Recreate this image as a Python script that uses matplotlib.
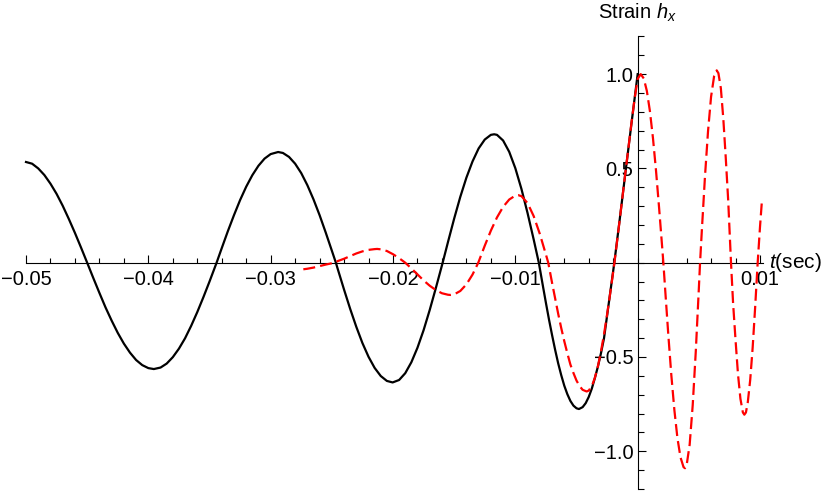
import matplotlib

matplotlib.use("Agg")
import matplotlib.pyplot as plt
from matplotlib.ticker import FixedLocator, MultipleLocator

# black curve: strain h_x vs t (sec)
blackT: list = [
    -0.0500, -0.0495, -0.0490, -0.0485, -0.0480, -0.0475, -0.0470, -0.0465,
    -0.0460, -0.0455, -0.0450, -0.0445, -0.0440, -0.0435, -0.0430, -0.0425,
    -0.0420, -0.0415, -0.0410, -0.0405, -0.0400, -0.03955, -0.0390, -0.0385,
    -0.0380, -0.0375, -0.0370, -0.0365, -0.0360, -0.0355, -0.0350, -0.03442,
    -0.0340, -0.0335, -0.0330, -0.0325, -0.0320, -0.0315, -0.0310, -0.0305,
    -0.0300, -0.02939, -0.0290, -0.0285, -0.0280, -0.0275, -0.0270, -0.0265,
    -0.0260, -0.0255, -0.0250, -0.02467, -0.0245, -0.0240, -0.0235, -0.0230,
    -0.0225, -0.0220, -0.0215, -0.0210, -0.0205, -0.02003, -0.0195, -0.0190,
    -0.0185, -0.0180, -0.0175, -0.0170, -0.0165, -0.01594, -0.0155, -0.0150,
    -0.0145, -0.0140, -0.0135, -0.0130, -0.0125, -0.0120, -0.01173, -0.0115,
    -0.0110, -0.0105, -0.0100, -0.0095, -0.0090, -0.0085, -0.00808, -0.00775,
    -0.0075, -0.00725, -0.0070, -0.00675, -0.0065, -0.00625, -0.0060, -0.00575,
    -0.0055, -0.00525, -0.0050, -0.0048, -0.0045, -0.00425, -0.0040, -0.00375,
    -0.0035, -0.00325, -0.0030, -0.00275, -0.0025, -0.00225, -0.0020, -0.00191,
    -0.0015, -0.0010, -0.0005, 0.0,
]
blackH: list = [
    0.534, 0.525, 0.500, 0.465, 0.419, 0.365, 0.302, 0.232,
    0.158, 0.080, 0.0, -0.081, -0.160, -0.237, -0.307, -0.372,
    -0.429, -0.477, -0.516, -0.543, -0.559, -0.564, -0.556, -0.535,
    -0.501, -0.456, -0.401, -0.335, -0.262, -0.183, -0.100, 0.0,
    0.077, 0.167, 0.252, 0.332, 0.403, 0.464, 0.514, 0.552,
    0.576, 0.587, 0.582, 0.561, 0.525, 0.475, 0.411, 0.336,
    0.252, 0.160, 0.064, 0.0, -0.037, -0.143, -0.245, -0.340,
    -0.426, -0.499, -0.558, -0.601, -0.627, -0.635, -0.622, -0.586,
    -0.528, -0.451, -0.358, -0.251, -0.135, 0.0, 0.111, 0.234,
    0.349, 0.451, 0.537, 0.606, 0.653, 0.678, 0.681, 0.678,
    0.648, 0.588, 0.501, 0.391, 0.263, 0.123, 0.0, -0.122,
    -0.213, -0.301, -0.383, -0.461, -0.533, -0.596, -0.652, -0.697,
    -0.733, -0.758, -0.772, -0.776, -0.766, -0.745, -0.712, -0.668,
    -0.612, -0.551, -0.480, -0.400, -0.281, -0.162, -0.043, 0.0,
    0.212, 0.478, 0.742, 1.0,
]

# red dashed curve
redT: list = [
    -0.02733, -0.0270, -0.0265, -0.0260, -0.0255, -0.0250, -0.02475, -0.0245,
    -0.0240, -0.0235, -0.0230, -0.0225, -0.0220, -0.0215, -0.0213, -0.0210,
    -0.0205, -0.0200, -0.0195, -0.0190, -0.0185, -0.0180, -0.0175, -0.0170,
    -0.0165, -0.0160, -0.0155, -0.0153, -0.0150, -0.0145, -0.0140, -0.0135,
    -0.01303, -0.0125, -0.0120, -0.0115, -0.0110, -0.0105, -0.0100, -0.00976,
    -0.0095, -0.0090, -0.0085, -0.0080, -0.0075, -0.00731, -0.0070, -0.00675,
    -0.0065, -0.00625, -0.0060, -0.00575, -0.0055, -0.00525, -0.0050, -0.00475,
    -0.0045, -0.00417, -0.0040, -0.00375, -0.0035, -0.00325, -0.0030, -0.00275,
    -0.0025, -0.00225, -0.0020, -0.0019, -0.0015, -0.0010, -0.0005, -0.00025,
    0.0, 0.00025, 0.0005, 0.00075, 0.0010, 0.00125, 0.0015, 0.00175,
    0.0020, 0.0021, 0.00225, 0.0025, 0.00275, 0.0030, 0.00325, 0.0035,
    0.00375, 0.00387, 0.0040, 0.00425, 0.0045, 0.00475, 0.0050, 0.0051,
    0.00525, 0.0055, 0.00575, 0.0060, 0.00625, 0.00646, 0.0066, 0.0068,
    0.0070, 0.0072, 0.0074, 0.00763, 0.0078, 0.0080, 0.0082, 0.0084,
    0.0086, 0.00872, 0.00885, 0.0090, 0.0092, 0.0094, 0.0096, 0.00981,
    0.0100, 0.01014,
]
redH: list = [
    -0.035, -0.032, -0.026, -0.018, -0.010, -0.003, 0.0, 0.009,
    0.021, 0.035, 0.049, 0.060, 0.068, 0.072, 0.073, 0.071,
    0.062, 0.045, 0.024, 0.0, -0.030, -0.062, -0.094, -0.122,
    -0.145, -0.162, -0.170, -0.171, -0.168, -0.150, -0.115, -0.063,
    0.0, 0.090, 0.170, 0.240, 0.296, 0.335, 0.356, 0.358,
    0.353, 0.316, 0.247, 0.153, 0.043, 0.0, -0.106, -0.188,
    -0.270, -0.346, -0.416, -0.480, -0.540, -0.585, -0.625, -0.654,
    -0.674, -0.683, -0.678, -0.655, -0.611, -0.549, -0.471, -0.379,
    -0.275, -0.164, -0.048, 0.0, 0.210, 0.480, 0.745, 0.870,
    0.975, 1.0, 0.977, 0.911, 0.804, 0.661, 0.488, 0.292,
    0.085, 0.0, -0.144, -0.378, -0.595, -0.781, -0.930, -1.032,
    -1.084, -1.090, -1.075, -0.965, -0.755, -0.471, -0.138, 0.0,
    0.176, 0.455, 0.696, 0.880, 0.990, 1.020, 1.005, 0.925,
    0.764, 0.557, 0.330, 0.0, -0.215, -0.410, -0.591, -0.722,
    -0.794, -0.806, -0.794, -0.741, -0.621, -0.450, -0.240, 0.0,
    0.190, 0.314,
]

xTicks: list = [-0.05, -0.04, -0.03, -0.02, -0.01, 0.01]
xLabels: list = ["\u22120.05", "\u22120.04", "\u22120.03", "\u22120.02", "\u22120.01", "0.01"]
yTicks: list = [-1.0, -0.5, 0.5, 1.0]
yLabels: list = ["\u22121.0", "\u22120.5", "0.5", "1.0"]


def setupFonts() -> None:
    plt.rcParams["font.family"] = ["Liberation Sans", "DejaVu Sans"]
    plt.rcParams["mathtext.fontset"] = "custom"
    plt.rcParams["mathtext.rm"] = "Liberation Sans"
    plt.rcParams["mathtext.it"] = "Liberation Sans:italic"


def main() -> None:
    setupFonts()
    fig = plt.figure(figsize=(8.3, 4.91), dpi=100)
    ax = fig.add_axes([26 / 830, 2 / 491, 737 / 830, 452.6 / 491])

    ax.plot(blackT, blackH, color="black", lw=1.6, clip_on=False, zorder=3,
            solid_joinstyle="round")
    ax.plot(redT, redH, color="#ff0000", lw=1.6, linestyle=(0, (5.4, 2.3)),
            clip_on=False, zorder=4)

    ax.set_xlim(-0.05, 0.010245)
    ax.set_ylim(-1.2001, 1.2001)

    # axes crossing at origin, Mathematica style
    ax.spines["left"].set_position(("data", 0))
    ax.spines["bottom"].set_position(("data", 0))
    ax.spines["top"].set_visible(False)
    ax.spines["right"].set_visible(False)
    for side in ["left", "bottom"]:
        ax.spines[side].set_linewidth(0.8)

    ax.xaxis.set_major_locator(FixedLocator(xTicks))
    ax.set_xticklabels(xLabels)
    ax.xaxis.set_minor_locator(MultipleLocator(0.002))
    ax.yaxis.set_major_locator(FixedLocator(yTicks))
    ax.set_yticklabels(yLabels)
    ax.yaxis.set_minor_locator(MultipleLocator(0.1))

    ax.tick_params(axis="both", which="both", direction="in", width=0.8,
                   labelsize=14.5, colors="black")
    ax.tick_params(axis="x", which="major", length=5.8, pad=5)
    ax.tick_params(axis="x", which="minor", length=3.6)
    ax.tick_params(axis="y", which="major", length=5.8, pad=3)
    ax.tick_params(axis="y", which="minor", length=4.1)

    ax.annotate("$t$(sec)", xy=(1, 0), xycoords=("axes fraction", "data"),
                xytext=(4, 0), textcoords="offset points",
                ha="left", va="center", fontsize=15)
    ax.annotate("Strain $h_x$", xy=(0, 1), xycoords=("data", "axes fraction"),
                xytext=(0, 17), textcoords="offset points",
                ha="center", va="center", fontsize=14.5)

    fig.savefig("out.png", dpi=100)


if __name__ == "__main__":
    main()
